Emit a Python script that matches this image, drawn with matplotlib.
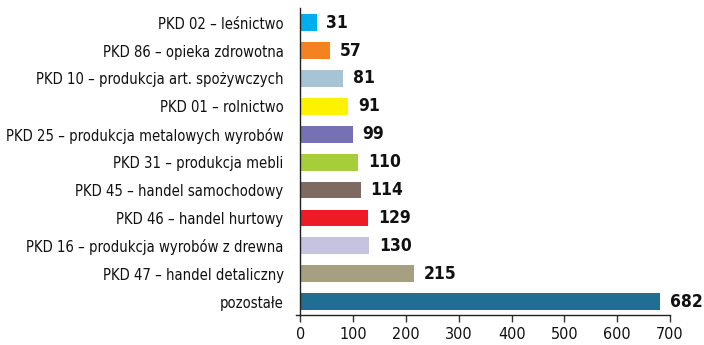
import matplotlib
matplotlib.use("Agg")
import matplotlib.pyplot as plt

categories = [
    "PKD 02 – leśnictwo",
    "PKD 86 – opieka zdrowotna",
    "PKD 10 – produkcja art. spożywczych",
    "PKD 01 – rolnictwo",
    "PKD 25 – produkcja metalowych wyrobów",
    "PKD 31 – produkcja mebli",
    "PKD 45 – handel samochodowy",
    "PKD 46 – handel hurtowy",
    "PKD 16 – produkcja wyrobów z drewna",
    "PKD 47 – handel detaliczny",
    "pozostałe",
]
values = [31, 57, 81, 91, 99, 110, 114, 129, 130, 215, 682]
colors = ["#00AEEF", "#F58220", "#A7C4D4", "#FFF200", "#7671B4", "#A6CE39",
          "#7F6A62", "#ED1C24", "#C6C3E1", "#A6A080", "#1E6F93"]
xticks = [0, 100, 200, 300, 400, 500, 600, 700]

plt.rcParams["font.family"] = ["DejaVu Sans"]
plt.rcParams["font.stretch"] = "condensed"

fig = plt.figure(figsize=(7.04, 3.45), dpi=100)
ax = fig.add_axes([0.4266, 0.087, 0.5251, 0.890])

ypos = list(range(len(values)))
ax.barh(ypos, values, height=0.6, color=colors, zorder=2)
for y, v in zip(ypos, values):
    ax.annotate(str(v), xy=(v, y), xytext=(7, 0), textcoords="offset points",
                va="center", ha="left", fontsize=12.5, fontweight="bold",
                fontstretch="condensed", color="#111111")

ax.set_ylim(10.477, -0.527)
ax.set_xlim(0, 700)
ax.set_yticks(ypos)
ax.set_yticklabels(categories, fontsize=10.6, color="#111111",
                   fontstretch="condensed")
ax.tick_params(axis="y", length=0, pad=12)
ax.set_xticks(xticks)
ax.set_xticklabels([str(t) for t in xticks], fontsize=11.5, color="#111111",
                   fontstretch="condensed")
ax.tick_params(axis="x", direction="out", length=5, width=1, color="#333333", pad=4)

for s in ["top", "right"]:
    ax.spines[s].set_visible(False)
for s in ["left", "bottom"]:
    ax.spines[s].set_color("#222222")
    ax.spines[s].set_linewidth(1)
ax.plot([-0.013, 0], [0, 0], transform=ax.transAxes, color="#222222",
        lw=1, clip_on=False)

fig.savefig("out.png", dpi=100)
